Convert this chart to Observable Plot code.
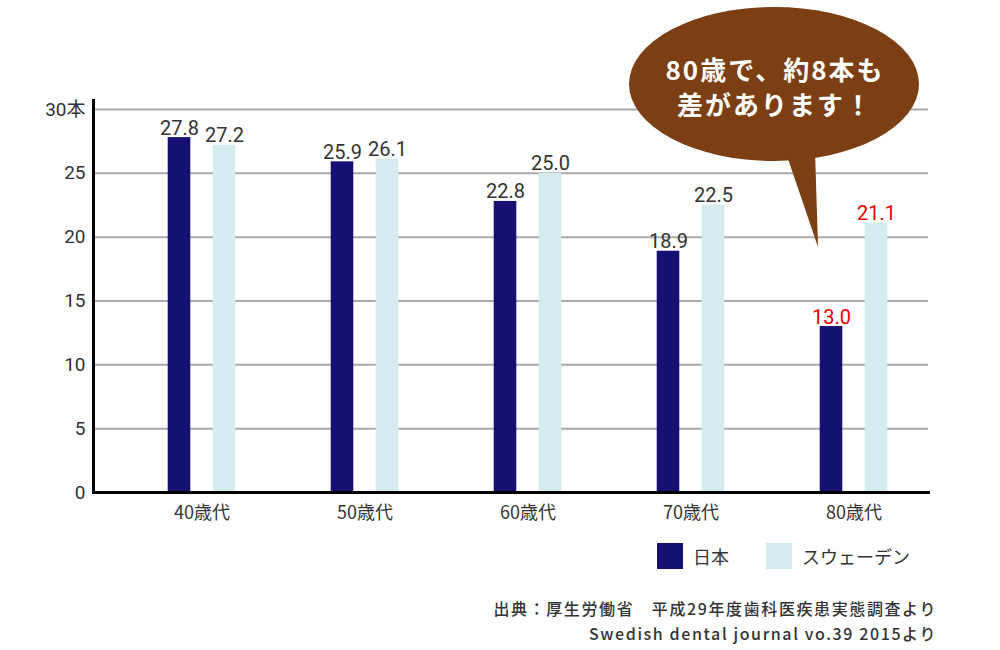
<!DOCTYPE html>
<html><head><meta charset="utf-8">
<script src="https://cdn.jsdelivr.net/npm/d3@7"></script>
<script src="https://cdn.jsdelivr.net/npm/@observablehq/plot@0.6"></script>
<style>
body{margin:0;background:#fff;font-family:Roboto,"Noto Sans CJK JP",sans-serif;}
#wrap{position:relative;width:1000px;height:650px;overflow:hidden;}
#legend{position:absolute;left:657px;top:543px;display:flex;align-items:center;font-family:"Noto Sans CJK JP",sans-serif;font-size:18px;color:#333;}
#legend .sw{display:inline-block;width:26px;height:26px;margin-right:10px;}
#legend .item{display:flex;align-items:center;margin-right:37px;}
#caption{position:absolute;right:63px;top:596px;text-align:right;font-family:"Noto Sans CJK JP",sans-serif;font-size:16px;font-weight:500;letter-spacing:1.6px;color:#333;line-height:25px;}
</style></head><body><div id="wrap"></div>
<script>
const ages = ["40歳代","50歳代","60歳代","70歳代","80歳代"];
const japan = [27.8, 25.9, 22.8, 18.9, 13.0];
const sweden = [27.2, 26.1, 25.0, 22.5, 21.1];
const seriesNames = ["日本", "スウェーデン"];
const yTicks = [0, 5, 10, 15, 20, 25, 30];
const yUnit = "本";
const highlightAge = "80歳代";
const bubbleLines = ["80歳で、約8本も", "差があります！"];
const captionLines = ["出典：厚生労働省　平成29年度歯科医疾患実態調査より", "Swedish dental journal vo.39 2015より"];

const palette = {"日本": "#141173", "スウェーデン": "#d4ecf0"};
const offsets = {"日本": -22.5, "スウェーデン": 22.5};

const rows = [];
ages.forEach((a, i) => {
  rows.push({age: a, series: seriesNames[0], value: japan[i]});
  rows.push({age: a, series: seriesNames[1], value: sweden[i]});
});

const fontNum = "Roboto,'Noto Sans CJK JP',sans-serif";
const marks = [
  Plot.ruleY(yTicks.filter(d => d > 0), {stroke: "#aaa", strokeWidth: 2})
];
for (const s of seriesNames) {
  const sub = rows.filter(d => d.series === s);
  marks.push(Plot.barY(sub, {x: "age", y: "value", fill: palette[s], dx: offsets[s], insetLeft: 70.2, insetRight: 70.2}));
  marks.push(Plot.text(sub, {x: "age", y: "value", text: d => d.value.toFixed(1), dx: offsets[s], dy: -3,
    lineAnchor: "bottom", fontSize: 20, fill: d => d.age === highlightAge ? "#ee0000" : "#333333"}));
}
marks.push(
  Plot.frame({anchor: "left", stroke: "#000", strokeWidth: 3}),
  Plot.frame({anchor: "bottom", stroke: "#000", strokeWidth: 3}),
  Plot.axisY({ticks: yTicks, tickSize: 0, tickPadding: 8, fontSize: 19, color: "#333",
    tickFormat: d => d === 30 ? d + yUnit : String(d)}),
  Plot.axisX({tickSize: 0, tickPadding: 14, fontSize: 18, color: "#333", fontFamily: "'Noto Sans CJK JP',sans-serif"})
);

const chart = Plot.plot({
  width: 1000, height: 530,
  marginLeft: 93, marginRight: 72, marginTop: 100, marginBottom: 38,
  style: {fontFamily: fontNum, background: "transparent", overflow: "visible"},
  x: {type: "band", domain: ages, range: [119.3, 936.2], padding: 0, label: null},
  y: {domain: [0, 30], insetTop: 9, label: null},
  marks
});

// speech bubble annotation
const svg = d3.select(chart);
const g = svg.append("g");
const brown = "#7b3f13";
g.append("ellipse").attr("cx", 774).attr("cy", 84).attr("rx", 145).attr("ry", 77).attr("fill", brown);
g.append("path").attr("d", "M785,150 L815,150 L818,247 Z").attr("fill", brown);
bubbleLines.forEach((t, i) => {
  g.append("text").attr("x", 775).attr("y", 71 + i * 35).attr("dy", "0.36em")
    .attr("text-anchor", "middle").attr("fill", "#fff")
    .attr("font-family", "'Noto Sans CJK JP',sans-serif").attr("font-weight", "bold")
    .attr("font-size", 26).attr("letter-spacing", "2px").text(t);
});

const wrap = document.getElementById("wrap");
wrap.appendChild(chart);

const legend = document.createElement("div");
legend.id = "legend";
for (const s of seriesNames) {
  const it = document.createElement("div");
  it.className = "item";
  const sw = document.createElement("span");
  sw.className = "sw";
  sw.style.background = palette[s];
  const lb = document.createElement("span");
  lb.textContent = s;
  it.appendChild(sw); it.appendChild(lb);
  legend.appendChild(it);
}
wrap.appendChild(legend);

const cap = document.createElement("div");
cap.id = "caption";
captionLines.forEach(t => { const d = document.createElement("div"); d.textContent = t; cap.appendChild(d); });
wrap.appendChild(cap);
</script>
</body></html>
